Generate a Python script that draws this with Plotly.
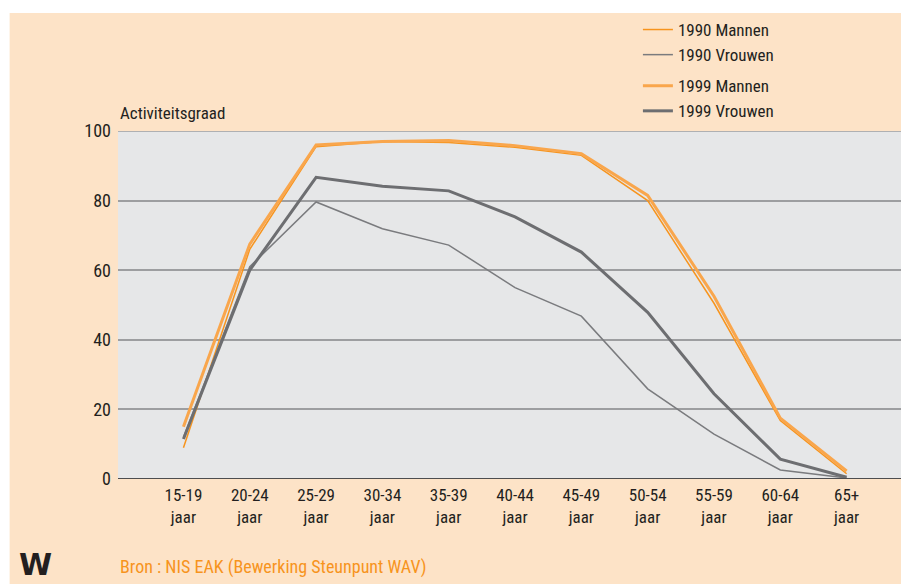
import plotly.graph_objects as go

categories = ["15-19<br>jaar", "20-24<br>jaar", "25-29<br>jaar", "30-34<br>jaar", "35-39<br>jaar",
              "40-44<br>jaar", "45-49<br>jaar", "50-54<br>jaar", "55-59<br>jaar", "60-64<br>jaar", "65+<br>jaar"]
mannen_1990 = [9, 66, 95.5, 97, 96.7, 95.3, 93, 80, 50.5, 16.8, 1.5]
vrouwen_1990 = [12, 61, 79.6, 71.9, 67.2, 55, 46.8, 25.9, 12.9, 2.6, 0.3]
mannen_1999 = [15, 67.5, 96, 97, 97.3, 95.8, 93.5, 81.5, 52.5, 17.5, 2.3]
vrouwen_1999 = [11.5, 60, 86.7, 84.1, 82.8, 75.3, 65.2, 47.9, 24.5, 5.7, 0.5]
y_ticks = [0, 20, 40, 60, 80, 100]

FONT = "Liberation Sans Narrow, Roboto Condensed, Arial Narrow, Liberation Sans, sans-serif"
TEXT = "#231f20"
ORANGE = "#f7941d"
ORANGE_LIGHT = "#f9a64c"
GREY_THIN = "#7a7b7e"
GREY_THICK = "#6d6e71"
GRID = "#9d9ea0"

fig = go.Figure()
fig.add_trace(go.Scatter(x=categories, y=mannen_1990, mode="lines", name="1990 Mannen",
                         line=dict(color=ORANGE, width=1.5), legendgroup="1990"))
fig.add_trace(go.Scatter(x=categories, y=vrouwen_1990, mode="lines", name="1990 Vrouwen",
                         line=dict(color=GREY_THIN, width=1.5), legendgroup="1990"))
fig.add_trace(go.Scatter(x=categories, y=mannen_1999, mode="lines", name="1999 Mannen",
                         line=dict(color=ORANGE_LIGHT, width=3), legendgroup="1999"))
fig.add_trace(go.Scatter(x=categories, y=vrouwen_1999, mode="lines", name="1999 Vrouwen",
                         line=dict(color=GREY_THICK, width=3), legendgroup="1999"))

fig.update_layout(
    width=901, height=584,
    margin=dict(l=117.5, r=0, t=131, b=105),
    paper_bgcolor="#fde3c7",
    plot_bgcolor="#e6e7e8",
    font=dict(family=FONT, size=17, color=TEXT),
    showlegend=True,
    legend=dict(x=0.664, y=1.342, xanchor="left", yanchor="top",
                bgcolor="rgba(0,0,0,0)", font=dict(size=17, color=TEXT),
                traceorder="grouped", tracegroupgap=6),
    xaxis=dict(range=[-0.987, 10.82], showgrid=False, ticks="", showline=False,
               zeroline=False, tickfont=dict(size=17), ticklabelstandoff=4),
    yaxis=dict(range=[0, 100], tickvals=y_ticks, showgrid=True, gridcolor=GRID,
               gridwidth=1.5, zeroline=False, showline=False, ticks="", ticklabelstandoff=6,
               tickfont=dict(size=18)),
    annotations=[
        dict(text="Activiteitsgraad", xref="paper", yref="paper", x=0, y=1.0, yshift=18,
             xanchor="left", yanchor="middle", showarrow=False, font=dict(size=17)),
        dict(text="Bron : NIS EAK (Bewerking Steunpunt WAV)", xref="paper", yref="paper",
             x=0, y=-0.253, xanchor="left", yanchor="middle", showarrow=False,
             font=dict(size=18, color=ORANGE)),
        dict(text="<b>W</b>", xref="paper", yref="paper", x=-0.105, y=-0.246,
             xanchor="center", yanchor="middle", showarrow=False,
             font=dict(size=30, color=TEXT, family="DejaVu Sans")),
    ],
    shapes=[
        dict(type="rect", xref="paper", yref="paper", x0=-0.2, x1=1.05, y0=1.339, y1=1.45,
             fillcolor="white", line=dict(width=0), layer="below"),
        dict(type="rect", xref="paper", yref="paper", x0=-0.2, x1=-0.1384, y0=-0.4, y1=1.45,
             fillcolor="white", line=dict(width=0), layer="below"),
        dict(type="line", xref="paper", yref="y", x0=0, x1=1, y0=100, y1=100,
             line=dict(color=GRID, width=1.5)),
        dict(type="line", xref="paper", yref="y", x0=0, x1=1, y0=0, y1=0,
             line=dict(color="#4d4d4f", width=2)),
    ],
)

fig.write_html("out.html", config={"displayModeBar": False},
               post_script="document.body.style.margin='0px';")
